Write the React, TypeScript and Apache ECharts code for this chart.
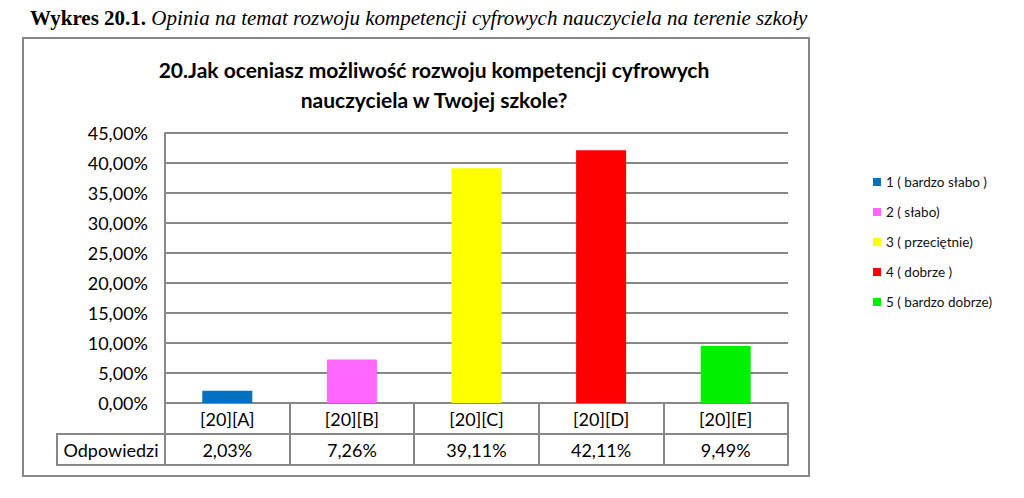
import React, { useEffect, useRef } from "react";
import * as echarts from "echarts";

const headingBold = "Wykres 20.1.";
const headingItalic = "Opinia na temat rozwoju kompetencji cyfrowych nauczyciela na terenie szkoły";
const titleLines = ["20.Jak oceniasz możliwość rozwoju kompetencji cyfrowych", "nauczyciela w Twojej szkole?"];
const categories = ["[20][A]", "[20][B]", "[20][C]", "[20][D]", "[20][E]"];
const values = [2.03, 7.26, 39.11, 42.11, 9.49];
const seriesNames = ["1 ( bardzo słabo )", "2 ( słabo)", "3 ( przeciętnie)", "4 ( dobrze )", "5 ( bardzo dobrze)"];
const colors = ["#0070C0", "#FF66FF", "#FFFF00", "#FF0000", "#00F000"];
const rowLabel = "Odpowiedzi";
const yMin = 0;
const yMax = 45;
const yInterval = 5;

const fmt = (v: number) => v.toFixed(2).replace(".", ",") + "%";

const GRAY = "#878787";
const FONT = "Lato";

export default function App() {
  const ref = useRef<HTMLDivElement>(null);
  useEffect(() => {
    if (!ref.current) return;
    const chart = echarts.init(ref.current, undefined, { renderer: "svg" });
    const lineStyle = { color: GRAY, width: 2 };
    const option: any = {
      animation: false,
      backgroundColor: "#fff",
      grid: { left: 165, right: 236, top: 133, bottom: 95, containLabel: false },
      legend: {
        data: seriesNames,
        orient: "vertical",
        left: 868,
        top: 170,
        itemWidth: 8,
        itemHeight: 8,
        itemGap: 16,
        icon: "rect",
        textStyle: { fontSize: 13.5, fontFamily: FONT, color: "#111", lineHeight: 14 },
      },
      xAxis: [
        {
          type: "category",
          data: categories,
          position: "bottom",
          boundaryGap: true,
          axisLine: { show: true, lineStyle },
          axisTick: { show: true, length: 31, interval: 0, lineStyle },
          axisLabel: { interval: 0, fontSize: 18, fontFamily: FONT, color: "#000", margin: 7 },
          splitLine: { show: false },
        },
        {
          type: "category",
          data: values.map(fmt),
          position: "bottom",
          offset: 31,
          boundaryGap: true,
          axisLine: { show: true, onZero: false, lineStyle },
          axisTick: { show: true, length: 31, interval: 0, lineStyle },
          axisLabel: { interval: 0, fontSize: 18, fontFamily: FONT, color: "#000", margin: 7 },
          splitLine: { show: false },
        },
        {
          type: "category",
          data: categories,
          position: "bottom",
          offset: 62,
          axisLine: { show: true, onZero: false, lineStyle },
          axisTick: { show: false },
          axisLabel: { show: false },
          splitLine: { show: false },
        },
      ],
      yAxis: {
        type: "value",
        min: yMin,
        max: yMax,
        interval: yInterval,
        axisLine: { show: true, lineStyle },
        axisTick: { show: false },
        splitLine: { show: true, lineStyle },
        axisLabel: { formatter: (v: number) => fmt(v), fontSize: 18, fontFamily: FONT, color: "#000", margin: 17 },
      },
      series: seriesNames.map((name, i) => ({
        name,
        type: "bar",
        stack: "all",
        xAxisIndex: 0,
        barWidth: 50,
        itemStyle: { color: colors[i] },
        data: values.map((v, j) => (j === i ? v : "-")),
      })),
      graphic: [
        {
          type: "text",
          x: 30,
          y: 7,
          style: {
            text: "{b|" + headingBold + "} {i|" + headingItalic + "}",
            rich: {
              b: { fontFamily: "Liberation Serif", fontWeight: "bold", fontSize: 21, fill: "#000" },
              i: { fontFamily: "Liberation Serif", fontStyle: "italic", fontSize: 21, fill: "#000" },
            },
            fontFamily: "Liberation Serif",
            fontSize: 21,
            fill: "#000",
          },
        },
        {
          type: "rect",
          shape: { x: 23, y: 38, width: 786, height: 438 },
          style: { fill: "none", stroke: GRAY, lineWidth: 2 },
        },
        {
          type: "text",
          x: 434,
          y: 54,
          style: {
            text: titleLines.join("\n"),
            textAlign: "center",
            fontFamily: FONT,
            fontWeight: "bold",
            fontSize: 21,
            lineHeight: 30,
            fill: "#000",
          },
        },
        {
          type: "rect",
          shape: { x: 57, y: 434, width: 108, height: 31 },
          style: { fill: "#fff", stroke: GRAY, lineWidth: 2 },
        },
        {
          type: "text",
          x: 111,
          y: 449.5,
          style: {
            text: rowLabel,
            textAlign: "center",
            textVerticalAlign: "middle",
            fontFamily: FONT,
            fontSize: 18,
            fill: "#000",
          },
        },
      ],
    };
    chart.setOption(option);
    return () => chart.dispose();
  }, []);
  return <div ref={ref} style={{ position: "absolute", left: 0, top: 0, width: 1024, height: 498 }} />;
}
